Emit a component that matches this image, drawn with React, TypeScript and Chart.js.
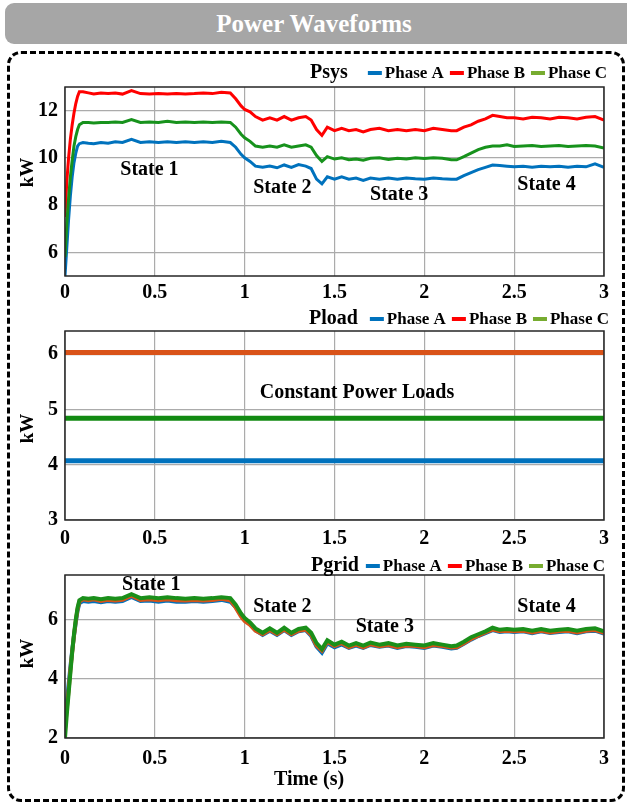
import React, { useEffect, useRef } from "react";
import { Chart, registerables } from "chart.js";

Chart.register(...registerables);

const FONT = '"Liberation Serif", "Times New Roman", serif';

// ---------- shared time base (s) ----------
const time = [
  0, 0.01, 0.02, 0.03, 0.04, 0.05, 0.06, 0.07, 0.08, 0.1,
  0.13, 0.16, 0.2, 0.24, 0.28, 0.32, 0.37, 0.42, 0.47, 0.52,
  0.57, 0.62, 0.67, 0.72, 0.77, 0.82, 0.87, 0.92, 0.95, 0.98,
  1.0, 1.03, 1.06, 1.1, 1.14, 1.18, 1.22, 1.26, 1.3, 1.34,
  1.37, 1.4, 1.43, 1.46, 1.5, 1.54, 1.58, 1.62, 1.66, 1.7,
  1.75, 1.8, 1.85, 1.9, 1.95, 2.0, 2.05, 2.1, 2.15, 2.18,
  2.22, 2.26, 2.3, 2.34, 2.38, 2.42, 2.46, 2.5, 2.55, 2.6,
  2.65, 2.7, 2.75, 2.8, 2.85, 2.9, 2.95, 3.0,
];

// ---------- Psys (kW) ----------
const psysA = [
  5.0, 6.2, 7.4, 8.4, 9.2, 9.8, 10.2, 10.5, 10.6, 10.65,
  10.62, 10.6, 10.65, 10.62, 10.68, 10.65, 10.78, 10.65, 10.68, 10.65,
  10.68, 10.65, 10.68, 10.65, 10.68, 10.65, 10.7, 10.65, 10.45, 10.15,
  10.0, 9.85, 9.65, 9.6, 9.65, 9.58, 9.7, 9.6, 9.72, 9.65,
  9.55, 9.1, 8.9, 9.2, 9.1, 9.2, 9.1, 9.15, 9.05, 9.15,
  9.1, 9.15, 9.1, 9.15, 9.12, 9.1, 9.15, 9.12, 9.1, 9.1,
  9.25, 9.38, 9.5, 9.6, 9.7, 9.68, 9.65, 9.62, 9.65, 9.6,
  9.65, 9.62, 9.65, 9.6, 9.65, 9.62, 9.75, 9.6,
];
const psysB = [
  7.5, 9.0, 10.0, 10.8, 11.4, 11.9, 12.3, 12.6, 12.8, 12.8,
  12.75, 12.7, 12.75, 12.72, 12.75, 12.7, 12.85, 12.72, 12.7, 12.72,
  12.7, 12.72, 12.7, 12.72, 12.75, 12.72, 12.78, 12.75, 12.5, 12.2,
  12.05, 11.95, 11.75, 11.6, 11.7, 11.6, 11.75, 11.6, 11.7, 11.75,
  11.6, 11.2, 10.95, 11.3, 11.15, 11.25, 11.15, 11.2, 11.1, 11.2,
  11.25, 11.15, 11.2, 11.15, 11.2, 11.15, 11.25, 11.2, 11.15, 11.15,
  11.3, 11.4, 11.55, 11.65, 11.8, 11.75, 11.7, 11.7, 11.65, 11.72,
  11.7, 11.65, 11.72, 11.7, 11.65, 11.72, 11.75, 11.6,
];
const psysC = [
  5.8, 7.2, 8.3, 9.2, 9.9, 10.5, 10.9, 11.2, 11.4, 11.5,
  11.5, 11.48, 11.5, 11.5, 11.52, 11.5, 11.62, 11.5, 11.52, 11.5,
  11.55, 11.5, 11.52, 11.5, 11.52, 11.5, 11.52, 11.5, 11.3, 11.0,
  10.85, 10.7, 10.5, 10.45, 10.5, 10.45, 10.55, 10.45, 10.5, 10.55,
  10.45, 10.1, 9.85, 10.05, 9.95, 10.0, 9.92, 9.95, 9.9, 9.98,
  10.0, 9.93, 9.98, 9.95, 10.0, 9.97, 10.0, 9.98, 9.92, 9.92,
  10.05, 10.2, 10.35, 10.45, 10.5, 10.5, 10.55, 10.48, 10.5, 10.52,
  10.48, 10.5, 10.52, 10.48, 10.5, 10.52, 10.5, 10.42,
];

// ---------- Pload (kW) ----------
const ploadTime = [0, 3];
const ploadA = [4.07, 4.07];
const ploadB = [6.03, 6.03];
const ploadC = [4.84, 4.84];

// ---------- Pgrid (kW) ----------
const pgridA = [
  2.6, 3.2, 3.8, 4.4, 4.95, 5.45, 5.9, 6.3, 6.55, 6.62,
  6.6, 6.62, 6.58, 6.62, 6.6, 6.62, 6.76, 6.62, 6.64, 6.6,
  6.64, 6.6, 6.6, 6.62, 6.6, 6.62, 6.66, 6.6, 6.42, 6.15,
  5.98, 5.84, 5.64, 5.48, 5.62, 5.48, 5.64, 5.48, 5.6, 5.64,
  5.45, 5.08, 4.88, 5.2, 5.06, 5.16, 5.04, 5.12, 5.04, 5.14,
  5.08, 5.12, 5.04, 5.1, 5.08, 5.04, 5.12, 5.08, 5.02, 5.04,
  5.18, 5.32, 5.44, 5.54, 5.64, 5.58, 5.6, 5.58, 5.6, 5.54,
  5.6, 5.54, 5.58, 5.6, 5.54, 5.6, 5.62, 5.52,
];
const pgridB = [
  2.3, 3.0, 3.6, 4.3, 4.9, 5.45, 5.95, 6.35, 6.6, 6.68,
  6.65, 6.68, 6.62, 6.66, 6.64, 6.66, 6.8, 6.66, 6.68, 6.65,
  6.68, 6.65, 6.64, 6.66, 6.64, 6.66, 6.7, 6.65, 6.4, 6.1,
  5.95, 5.82, 5.62, 5.5, 5.64, 5.5, 5.66, 5.5, 5.62, 5.66,
  5.48, 5.12, 4.95, 5.25, 5.1, 5.2, 5.06, 5.15, 5.06, 5.16,
  5.1, 5.14, 5.06, 5.12, 5.1, 5.06, 5.14, 5.1, 5.05, 5.06,
  5.2, 5.34, 5.45, 5.56, 5.66, 5.6, 5.62, 5.6, 5.62, 5.56,
  5.62, 5.56, 5.6, 5.62, 5.56, 5.62, 5.64, 5.55,
];
const pgridC = [
  2.0, 2.8, 3.5, 4.2, 4.9, 5.5, 6.0, 6.4, 6.65, 6.72,
  6.7, 6.72, 6.68, 6.72, 6.7, 6.72, 6.85, 6.72, 6.75, 6.72,
  6.75, 6.72, 6.7, 6.72, 6.7, 6.72, 6.75, 6.72, 6.5, 6.2,
  6.05, 5.9, 5.7, 5.55, 5.7, 5.55, 5.72, 5.55, 5.68, 5.72,
  5.55, 5.2, 5.0, 5.3, 5.15, 5.25, 5.12, 5.2, 5.12, 5.22,
  5.15, 5.2, 5.12, 5.18, 5.15, 5.12, 5.2, 5.15, 5.1, 5.12,
  5.25, 5.4, 5.5, 5.6, 5.72, 5.65, 5.68, 5.65, 5.68, 5.62,
  5.68, 5.62, 5.65, 5.68, 5.62, 5.68, 5.7, 5.6,
];

// ---------- ticks & labels ----------
const xTicks = [0, 0.5, 1, 1.5, 2, 2.5, 3];
const psysYTicks = [6, 8, 10, 12];
const ploadYTicks = [3, 4, 5, 6];
const pgridYTicks = [2, 4, 6];
const phaseLabels = ["Phase A", "Phase B", "Phase C"];
const legendColors = ["#0072BD", "#FF0000", "#77AC30"];

const stateLabels = ["State 1", "State 2", "State 3", "State 4"];
const psysStateT = [0.47, 1.21, 1.86, 2.68];
const psysStateY = [9.48, 8.72, 8.43, 8.85];
const pgridStateT = [0.48, 1.21, 1.78, 2.68];
const pgridStateY = [7.16, 6.42, 5.74, 6.42];
const ploadNote = ["Constant Power Loads"];
const ploadNoteT = [1.625];
const ploadNoteY = [5.3];

function pts(ts: number[], vs: number[]) {
  return ts.map((t, i) => ({ x: t, y: vs[i] }));
}

type Note = { text: string; x: number; y: number };
type DecorOpts = {
  title: string;
  titleGap: number;
  legendRight: number;
  legendY: number;
  kwOffset: number;
  notes: Note[];
  timeLabel?: { x: number; y: number };
};

function decorPlugin(o: DecorOpts) {
  return {
    id: "decor",
    afterDatasetsDraw(chart: any) {
      const { ctx, chartArea: a, scales } = chart;
      ctx.save();
      // plot frame
      ctx.strokeStyle = "#262626";
      ctx.lineWidth = 1.5;
      ctx.strokeRect(a.left, a.top, a.right - a.left, a.bottom - a.top);

      // annotations
      ctx.fillStyle = "#000";
      ctx.textAlign = "center";
      ctx.textBaseline = "middle";
      ctx.font = `bold 20px ${FONT}`;
      o.notes.forEach((n) => {
        ctx.fillText(n.text, scales.x.getPixelForValue(n.x), scales.y.getPixelForValue(n.y));
      });

      // y axis title
      ctx.save();
      ctx.translate(28, (a.top + a.bottom) / 2 + o.kwOffset);
      ctx.rotate(-Math.PI / 2);
      ctx.font = `bold 19px ${FONT}`;
      ctx.fillText("kW", 0, 0);
      ctx.restore();

      // x axis title
      if (o.timeLabel) {
        ctx.font = `bold 20px ${FONT}`;
        ctx.fillText("Time (s)", o.timeLabel.x, o.timeLabel.y);
      }

      // legend
      const titleFont = `bold 20px ${FONT}`;
      const itemFont = `bold 17px ${FONT}`;
      ctx.font = titleFont;
      const tw = ctx.measureText(o.title).width;
      ctx.font = itemFont;
      const widths = phaseLabels.map((l) => ctx.measureText(l).width);
      const mW = 14, mGap = 3, iGap = 6;
      const total =
        tw + o.titleGap + widths.reduce((s, w) => s + w + mW + mGap, 0) + iGap * (phaseLabels.length - 1);
      let x = o.legendRight - total;
      ctx.textAlign = "left";
      ctx.font = titleFont;
      ctx.fillText(o.title, x, o.legendY);
      x += tw + o.titleGap;
      ctx.font = itemFont;
      phaseLabels.forEach((l, i) => {
        ctx.fillStyle = legendColors[i];
        ctx.fillRect(x, o.legendY - 2, mW, 4);
        x += mW + mGap;
        ctx.fillStyle = "#000";
        ctx.fillText(l, x, o.legendY + 1);
        x += widths[i] + iGap;
      });
      ctx.restore();
    },
  };
}

type Cfg = {
  datasets: any[];
  yMin: number;
  yMax: number;
  yTicks: number[];
  plotTop: number;
  xAxisHeight: number;
  xTickPad: number;
  decor: DecorOpts;
};

function buildConfig(c: Cfg): any {
  const tickFont = { family: FONT, size: 20, weight: "bold" as const };
  const grid = { color: "#ababab", lineWidth: 1.2, drawTicks: false };
  return {
    type: "line",
    data: { datasets: c.datasets },
    options: {
      animation: false,
      responsive: false,
      maintainAspectRatio: false,
      layout: { padding: { top: c.plotTop, right: 23, left: 0, bottom: 0 } },
      plugins: { legend: { display: false }, tooltip: { enabled: false }, title: { display: false } },
      elements: { point: { radius: 0 }, line: { tension: 0 } },
      scales: {
        x: {
          type: "linear",
          min: 0,
          max: 3,
          afterBuildTicks: (ax: any) => {
            ax.ticks = xTicks.map((v) => ({ value: v }));
          },
          afterFit: (ax: any) => {
            ax.height = c.xAxisHeight;
          },
          grid,
          border: { display: false },
          ticks: {
            padding: c.xTickPad,
            color: "#000",
            font: tickFont,
            maxRotation: 0,
            autoSkip: false,
            callback: (v: number) => String(v),
          },
        },
        y: {
          type: "linear",
          min: c.yMin,
          max: c.yMax,
          afterBuildTicks: (ax: any) => {
            ax.ticks = c.yTicks.map((v) => ({ value: v }));
          },
          afterFit: (ax: any) => {
            ax.width = 65;
          },
          grid,
          border: { display: false },
          ticks: {
            padding: 7,
            color: "#000",
            font: tickFont,
            autoSkip: false,
            callback: (v: number) => String(v),
          },
        },
      },
    },
    plugins: [decorPlugin(c.decor)],
  };
}

function ChartBox({ top, height, config }: { top: number; height: number; config: () => any }) {
  const ref = useRef<HTMLCanvasElement | null>(null);
  useEffect(() => {
    if (!ref.current) return;
    const chart = new Chart(ref.current, config());
    return () => chart.destroy();
  }, []);
  return (
    <canvas
      ref={ref}
      width={627}
      height={height}
      style={{ position: "absolute", left: 0, top, width: 627, height, display: "block" }}
    />
  );
}

function line(label: string, ts: number[], vs: number[], color: string, width: number, order: number) {
  return {
    label,
    data: pts(ts, vs),
    borderColor: color,
    backgroundColor: color,
    borderWidth: width,
    pointRadius: 0,
    fill: false,
    order,
  };
}

const psysConfig = () =>
  buildConfig({
    datasets: [
      line("Phase A", time, psysA, "#0072BD", 3, 2),
      line("Phase B", time, psysB, "#FF0000", 3, 1),
      line("Phase C", time, psysC, "#17921C", 3, 0),
    ],
    yMin: 5,
    yMax: 13,
    yTicks: psysYTicks,
    plotTop: 32,
    xAxisHeight: 29,
    xTickPad: 5,
    decor: {
      title: "Psys",
      titleGap: 20,
      legendRight: 607,
      legendY: 18,
      kwOffset: -9,
      notes: stateLabels.map((s, i) => ({ text: s, x: psysStateT[i], y: psysStateY[i] })),
    },
  });

const ploadConfig = () =>
  buildConfig({
    datasets: [
      line("Phase A", ploadTime, ploadA, "#0072BD", 5, 2),
      line("Phase B", ploadTime, ploadB, "#D95319", 5, 1),
      line("Phase C", ploadTime, ploadC, "#128A12", 5, 0),
    ],
    yMin: 3,
    yMax: 6.42,
    yTicks: ploadYTicks,
    plotTop: 31,
    xAxisHeight: 30,
    xTickPad: 7,
    decor: {
      title: "Pload",
      titleGap: 12,
      legendRight: 609,
      legendY: 19,
      kwOffset: 3,
      notes: ploadNote.map((s, i) => ({ text: s, x: ploadNoteT[i], y: ploadNoteY[i] })),
    },
  });

const pgridConfig = () =>
  buildConfig({
    datasets: [
      line("Phase A", time, pgridA, "#0072BD", 4, 2),
      line("Phase B", time, pgridB, "#D95319", 4, 1),
      line("Phase C", time, pgridC, "#1A8F1A", 4, 0),
    ],
    yMin: 2,
    yMax: 7.5,
    yTicks: pgridYTicks,
    plotTop: 30,
    xAxisHeight: 62,
    xTickPad: 9,
    decor: {
      title: "Pgrid",
      titleGap: 7,
      legendRight: 605,
      legendY: 21,
      kwOffset: -3,
      notes: stateLabels.map((s, i) => ({ text: s, x: pgridStateT[i], y: pgridStateY[i] })),
      timeLabel: { x: 309, y: 235 },
    },
  });

export default function App() {
  return (
    <div
      style={{
        position: "absolute",
        left: 0,
        top: 0,
        width: 627,
        height: 805,
        background: "#fff",
        overflow: "hidden",
        fontFamily: FONT,
      }}
    >
      <div
        style={{
          position: "absolute",
          left: 5,
          top: 3,
          width: 630,
          height: 41,
          background: "#a6a6a6",
          borderRadius: 9,
          color: "#fff",
          fontWeight: "bold",
          fontSize: 25,
          lineHeight: "41px",
          textAlign: "left",
        }}
      >
        <span style={{ position: "absolute", left: 0, width: 618, textAlign: "center" }}>Power Waveforms</span>
      </div>
      <div
        style={{
          position: "absolute",
          left: 7,
          top: 51,
          width: 618,
          height: 751,
          boxSizing: "border-box",
          border: "3px dashed #000",
          borderRadius: 14,
        }}
      />
      <ChartBox top={55} height={250} config={psysConfig} />
      <ChartBox top={300} height={250} config={ploadConfig} />
      <ChartBox top={545} height={255} config={pgridConfig} />
    </div>
  );
}
